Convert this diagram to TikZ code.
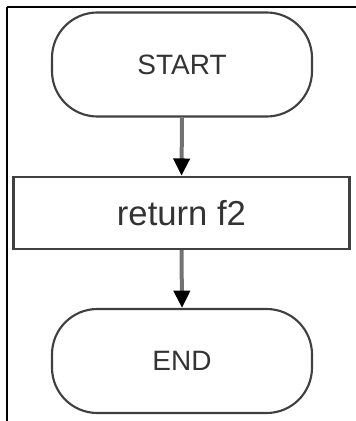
\documentclass[tikz,border=0pt]{standalone}
\usepackage{fontspec}
\setmainfont{Liberation Sans}
\usetikzlibrary{arrows.meta}

\begin{document}
\begin{tikzpicture}[x=0.75pt,y=0.75pt,yscale=-1,
    termbox/.style={draw=black!75, line width=1.6pt, rounded corners=34pt,
        minimum width=195pt, minimum height=78pt, inner sep=0pt,
        text=black!80, font=\fontsize{21}{25}\selectfont},
    taskbox/.style={draw=black!75, line width=1.8pt,
        minimum width=252pt, minimum height=54pt, inner sep=0pt,
        text=black!80, font=\fontsize{26}{30}\selectfont},
    flowline/.style={draw=black!55, line width=3pt,
        -{Triangle[width=12pt,length=13pt,black]}}]
        \useasboundingbox (0,0) rectangle (356,421);

        %Frame: top and left edge
        \draw [line width=1.5pt] (6.5,7) -- (356,7) ;
        \draw [line width=1.5pt] (6.5,7) -- (6.5,421) ;

        % Terminator
        \node [termbox] (start) at (182,64.5) {START};
        % Process
        \node [taskbox] (ret) at (181.5,213) {return f2};
        % Terminator
        \node [termbox] (stop) at (182,361) {END};

        % Flow lines
        \draw [flowline] (start.south) -- (ret.north) ;
        \draw [flowline] (ret.south) -- (stop.north) ;

\end{tikzpicture}
\end{document}
